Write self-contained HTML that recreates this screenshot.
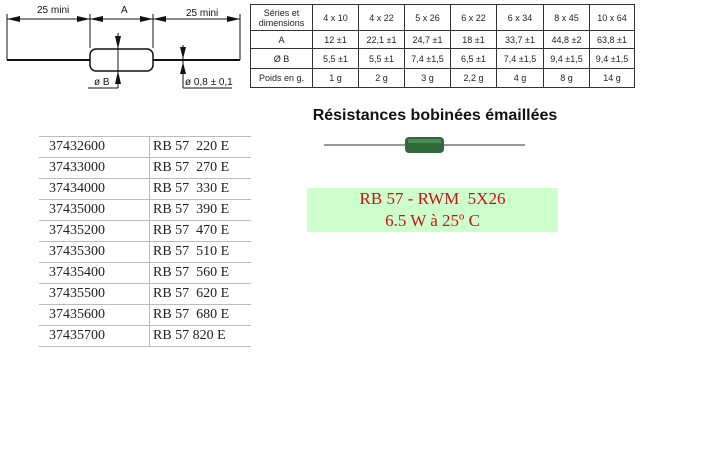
<!DOCTYPE html>
<html><head><meta charset="utf-8">
<style>
body{margin:0;background:#fff;width:716px;height:458px;position:relative;overflow:hidden;font-family:"Liberation Sans",Arial,sans-serif}
.abs{position:absolute}
table.spec{position:absolute;left:250px;top:4px;border-collapse:collapse;font-size:9px;color:#222}
table.spec td{border:1px solid #333;text-align:center;padding:0;height:auto}
table.ref{position:absolute;left:39px;top:136px;border-collapse:collapse;font-family:"Liberation Serif",serif;font-size:14px;color:#222}
table.ref td{border-top:1px solid #bbb;border-bottom:1px solid #bbb;height:20px;padding:0 0 0 10px;line-height:20px}
table.ref td.b{border-left:1px solid #bbb;padding-left:3px}
</style></head><body>
<svg class="abs" style="left:0;top:0" width="250" height="100">
<g stroke="#111" fill="none" stroke-width="1">
<line x1="7" y1="14" x2="7" y2="60"/><line x1="90" y1="14" x2="90" y2="48"/><line x1="153" y1="14" x2="153" y2="48"/><line x1="240" y1="14" x2="240" y2="60"/>
<line x1="7" y1="19" x2="240" y2="19"/>
<line x1="7" y1="60" x2="90" y2="60" stroke-width="2"/><line x1="153" y1="60" x2="240" y2="60" stroke-width="2"/>
<rect x="90" y="49" width="63" height="22" rx="6" stroke-width="1.5"/>
<line x1="118" y1="33" x2="118" y2="88"/><line x1="88" y1="88" x2="118" y2="88"/>
<line x1="183" y1="45" x2="183" y2="88"/><line x1="183" y1="88" x2="232" y2="88"/>
</g>
<g fill="#111">
<polygon points="7,19 20,16 20,22"/><polygon points="90,19 77,16 77,22"/>
<polygon points="90,19 103,16 103,22"/><polygon points="153,19 140,16 140,22"/>
<polygon points="153,19 166,16 166,22"/><polygon points="240,19 227,16 227,22"/>
<polygon points="118,49 115,36 121,36"/><polygon points="118,71 115,84 121,84"/>
<polygon points="183,59 180,47 186,47"/><polygon points="183,62 180,74 186,74"/>
</g>
<g font-size="10" fill="#111">
<text x="37" y="13">25 mini</text><text x="121" y="13">A</text><text x="186" y="16">25 mini</text>
<text x="94" y="85">ø B</text><text x="185" y="85">ø 0,8 ± 0,1</text>
</g>
</svg>
<table class="spec">
<tr style="height:26px"><td style="width:61px">Séries et<br>dimensions</td><td style="width:45px">4 x 10</td><td style="width:45px">4 x 22</td><td style="width:45px">5 x 26</td><td style="width:45px">6 x 22</td><td style="width:46px">6 x 34</td><td style="width:45px">8 x 45</td><td style="width:44px">10 x 64</td></tr>
<tr style="height:18px"><td>A</td><td>12 ±1</td><td>22,1 ±1</td><td>24,7 ±1</td><td>18 ±1</td><td>33,7 ±1</td><td>44,8 ±2</td><td>63,8 ±1</td></tr>
<tr style="height:20px"><td>Ø B</td><td>5,5 ±1</td><td>5,5 ±1</td><td>7,4 ±1,5</td><td>6,5 ±1</td><td>7,4 ±1,5</td><td>9,4 ±1,5</td><td>9,4 ±1,5</td></tr>
<tr style="height:19px"><td>Poids en g.</td><td>1 g</td><td>2 g</td><td>3 g</td><td>2,2 g</td><td>4 g</td><td>8 g</td><td>14 g</td></tr>
</table>
<div class="abs" style="left:300px;top:107px;width:270px;text-align:center;font-weight:bold;font-size:16px;color:#111">Résistances bobinées émaillées</div>
<svg class="abs" style="left:320px;top:130px" width="210" height="30">
<line x1="4" y1="15" x2="205" y2="15" stroke="#333" stroke-width="1"/>
<rect x="85" y="7" width="39" height="16" rx="4" fill="#2e6a3a"/>
<rect x="88" y="9" width="33" height="4" fill="#4a8a55"/>
</svg>
<div class="abs" style="left:307px;top:188px;width:251px;height:44px;background:#ccffcc;text-align:center;font-family:'Liberation Serif',serif;font-size:17px;color:#cc1111;line-height:22px;padding-top:0px;box-sizing:border-box">RB 57 - RWM&nbsp; 5X26<br>6.5 W à 25º C</div>
<table class="ref">
<tr><td style="width:100px">37432600</td><td class="b" style="width:98px">RB 57&nbsp; 220 E</td></tr>
<tr><td>37433000</td><td class="b">RB 57&nbsp; 270 E</td></tr>
<tr><td>37434000</td><td class="b">RB 57&nbsp; 330 E</td></tr>
<tr><td>37435000</td><td class="b">RB 57&nbsp; 390 E</td></tr>
<tr><td>37435200</td><td class="b">RB 57&nbsp; 470 E</td></tr>
<tr><td>37435300</td><td class="b">RB 57&nbsp; 510 E</td></tr>
<tr><td>37435400</td><td class="b">RB 57&nbsp; 560 E</td></tr>
<tr><td>37435500</td><td class="b">RB 57&nbsp; 620 E</td></tr>
<tr><td>37435600</td><td class="b">RB 57&nbsp; 680 E</td></tr>
<tr><td>37435700</td><td class="b">RB 57 820 E</td></tr>
</table>
</body></html>
